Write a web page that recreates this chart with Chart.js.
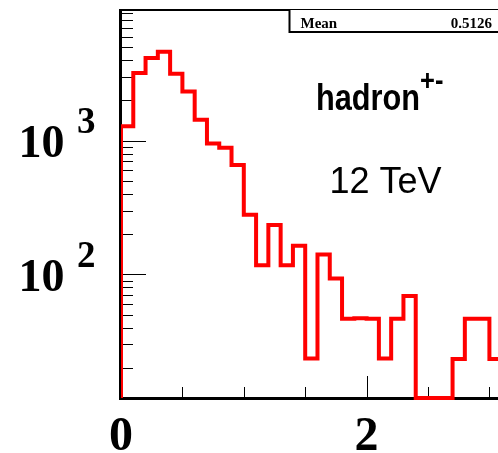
<!DOCTYPE html>
<html>
<head>
<meta charset="utf-8">
<script src="https://cdn.jsdelivr.net/npm/chart.js@4/dist/chart.umd.min.js"></script>
<style>
  html, body { margin: 0; padding: 0; background: #fff; overflow: hidden; }
  canvas { display: block; }
</style>
</head>
<body>
<canvas id="histo" width="498" height="453"></canvas>
<script>
// hadron+- spectrum, 12 TeV, ROOT style log histogram (cut off on the right like the original)

const binLow = [0.0, 0.1, 0.2, 0.3, 0.4, 0.5, 0.6, 0.7, 0.8, 0.9,
                1.0, 1.1, 1.2, 1.3, 1.4, 1.5, 1.6, 1.7, 1.8, 1.9,
                2.0, 2.1, 2.2, 2.3, 2.4, 2.5, 2.6, 2.7, 2.8, 2.9, 3.0];
const counts = [1285, 3210, 4160, 4620, 3170, 2330, 1435, 955, 886, 658,
                279, 117, 234, 117, 164, 23.5, 141, 93, 46.6, 47,
                46.6, 23.5, 46.6, 69, 0, 0, 0, 23.3, 46.6, 46.6, 23.3];
const binWidth = 0.1;

const xMajor = [0, 2];
const xLabels = ['0', '2'];
const xMinor = [0.5, 1, 1.5, 2.5, 3];
const yMajor = [100, 1000];
const yExponents = ['2', '3'];

const X_MAX = 3.07;
const Y_MIN = 11.9;
const Y_MAX = 9500;

const statName = 'Mean';
const statValue = '0.5126';

// minor log ticks 20..90, 200..900, 2000..9000
const yMinor = [];
[10, 100, 1000].forEach(d => { for (let m = 2; m <= 9; m++) yMinor.push(m * d); });

// histogram outline: start on the floor, one point per bin edge
const outline = [{ x: binLow[0], y: Y_MIN }];
binLow.forEach((x, i) => outline.push({ x: x, y: counts[i] > 0 ? counts[i] : Y_MIN }));
outline.push({ x: binLow[binLow.length - 1] + binWidth, y: counts[counts.length - 1] });

const rootFrame = {
  id: 'rootFrame',
  beforeDatasetsDraw(chart) {
    const { ctx, chartArea: a, scales: { x, y } } = chart;
    ctx.save();
    ctx.strokeStyle = '#000';

    ctx.lineWidth = 2;
    ctx.beginPath();
    ctx.moveTo(a.left - 2, a.top);
    ctx.lineTo(a.right, a.top);
    ctx.stroke();

    ctx.lineWidth = 3;
    ctx.beginPath();
    ctx.moveTo(a.left - 0.5, a.top - 1);
    ctx.lineTo(a.left - 0.5, a.bottom + 0.5);
    ctx.lineTo(a.right, a.bottom + 0.5);
    ctx.stroke();

    // ticks inside the frame
    ctx.lineWidth = 1;
    ctx.beginPath();
    yMinor.forEach(v => {
      const py = Math.round(y.getPixelForValue(v)) + 0.5;
      if (py < a.top || py > a.bottom) return;
      ctx.moveTo(a.left, py); ctx.lineTo(a.left + 12, py);
    });
    yMajor.forEach(v => {
      const py = Math.round(y.getPixelForValue(v)) + 0.5;
      ctx.moveTo(a.left, py); ctx.lineTo(a.left + 25, py);
    });
    xMinor.forEach(v => {
      const px = Math.round(x.getPixelForValue(v)) + 0.5;
      ctx.moveTo(px, a.bottom); ctx.lineTo(px, a.bottom - 11);
    });
    xMajor.forEach(v => {
      if (v === 0) return;
      const px = Math.round(x.getPixelForValue(v)) + 0.5;
      ctx.moveTo(px, a.bottom); ctx.lineTo(px, a.bottom - 22);
    });
    ctx.stroke();
    ctx.restore();
  },
  afterDatasetsDraw(chart) {
    const { ctx, scales: { x, y } } = chart;
    ctx.save();
    ctx.fillStyle = '#000';
    ctx.textBaseline = 'alphabetic';

    // axis labels, 10^n drawn by hand
    yMajor.forEach((v, i) => {
      const py = y.getPixelForValue(v);
      ctx.font = 'bold 46px "Liberation Serif"';
      ctx.textAlign = 'right';
      ctx.fillText('10', 64.5, py + 16.5);
      ctx.font = 'bold 37px "Liberation Serif"';
      ctx.textAlign = 'left';
      ctx.fillText(yExponents[i], 77, py - 7.7);
    });
    ctx.font = 'bold 48px "Liberation Serif"';
    ctx.textAlign = 'center';
    xMajor.forEach((v, i) => {
      ctx.fillText(xLabels[i], x.getPixelForValue(v), 450);
    });

    // stats box
    ctx.fillStyle = '#fff';
    ctx.fillRect(289, 10, 220, 22);
    ctx.strokeStyle = '#000';
    ctx.lineWidth = 2;
    ctx.beginPath();
    ctx.moveTo(289.5, 10);
    ctx.lineTo(289.5, 32);
    ctx.lineTo(498, 32);
    ctx.stroke();
    ctx.fillStyle = '#000';
    ctx.font = 'bold 15px "Liberation Serif"';
    ctx.textAlign = 'left';
    ctx.fillText(statName, 300.5, 28.3);
    ctx.textAlign = 'right';
    ctx.fillText(statValue, 492, 28.3);

    // narrow bold helvetica look
    ctx.textAlign = 'left';
    ctx.save();
    ctx.translate(316, 110);
    ctx.scale(0.83, 1);
    ctx.font = 'bold 37px "Liberation Sans"';
    ctx.fillText('hadron', 0, 0);
    ctx.restore();
    ctx.save();
    ctx.translate(420, 90);
    ctx.scale(0.85, 1);
    ctx.font = 'bold 30px "Liberation Sans"';
    ctx.fillText('+-', 0, 0);
    ctx.restore();

    ctx.font = '36px "Liberation Sans"';
    ctx.fillText('12 TeV', 329.5, 193.3);
    ctx.restore();
  }
};

new Chart(document.getElementById('histo'), {
  type: 'line',
  data: {
    datasets: [{
      data: outline,
      borderColor: '#ff0000',
      borderWidth: 4,
      stepped: true,
      pointRadius: 0,
      fill: false,
      tension: 0,
      borderJoinStyle: 'miter',
      borderCapStyle: 'butt',
      clip: { left: 0, top: 0, right: 0, bottom: 3 }
    }]
  },
  options: {
    responsive: false,
    animation: false,
    devicePixelRatio: 1,
    layout: { padding: { left: 121, top: 10, right: 0, bottom: 55 } },
    plugins: {
      legend: { display: false },
      tooltip: { enabled: false }
    },
    scales: {
      x: { type: 'linear', display: false, min: 0, max: X_MAX },
      y: { type: 'logarithmic', display: false, min: Y_MIN, max: Y_MAX }
    }
  },
  plugins: [rootFrame]
});
</script>
</body>
</html>
